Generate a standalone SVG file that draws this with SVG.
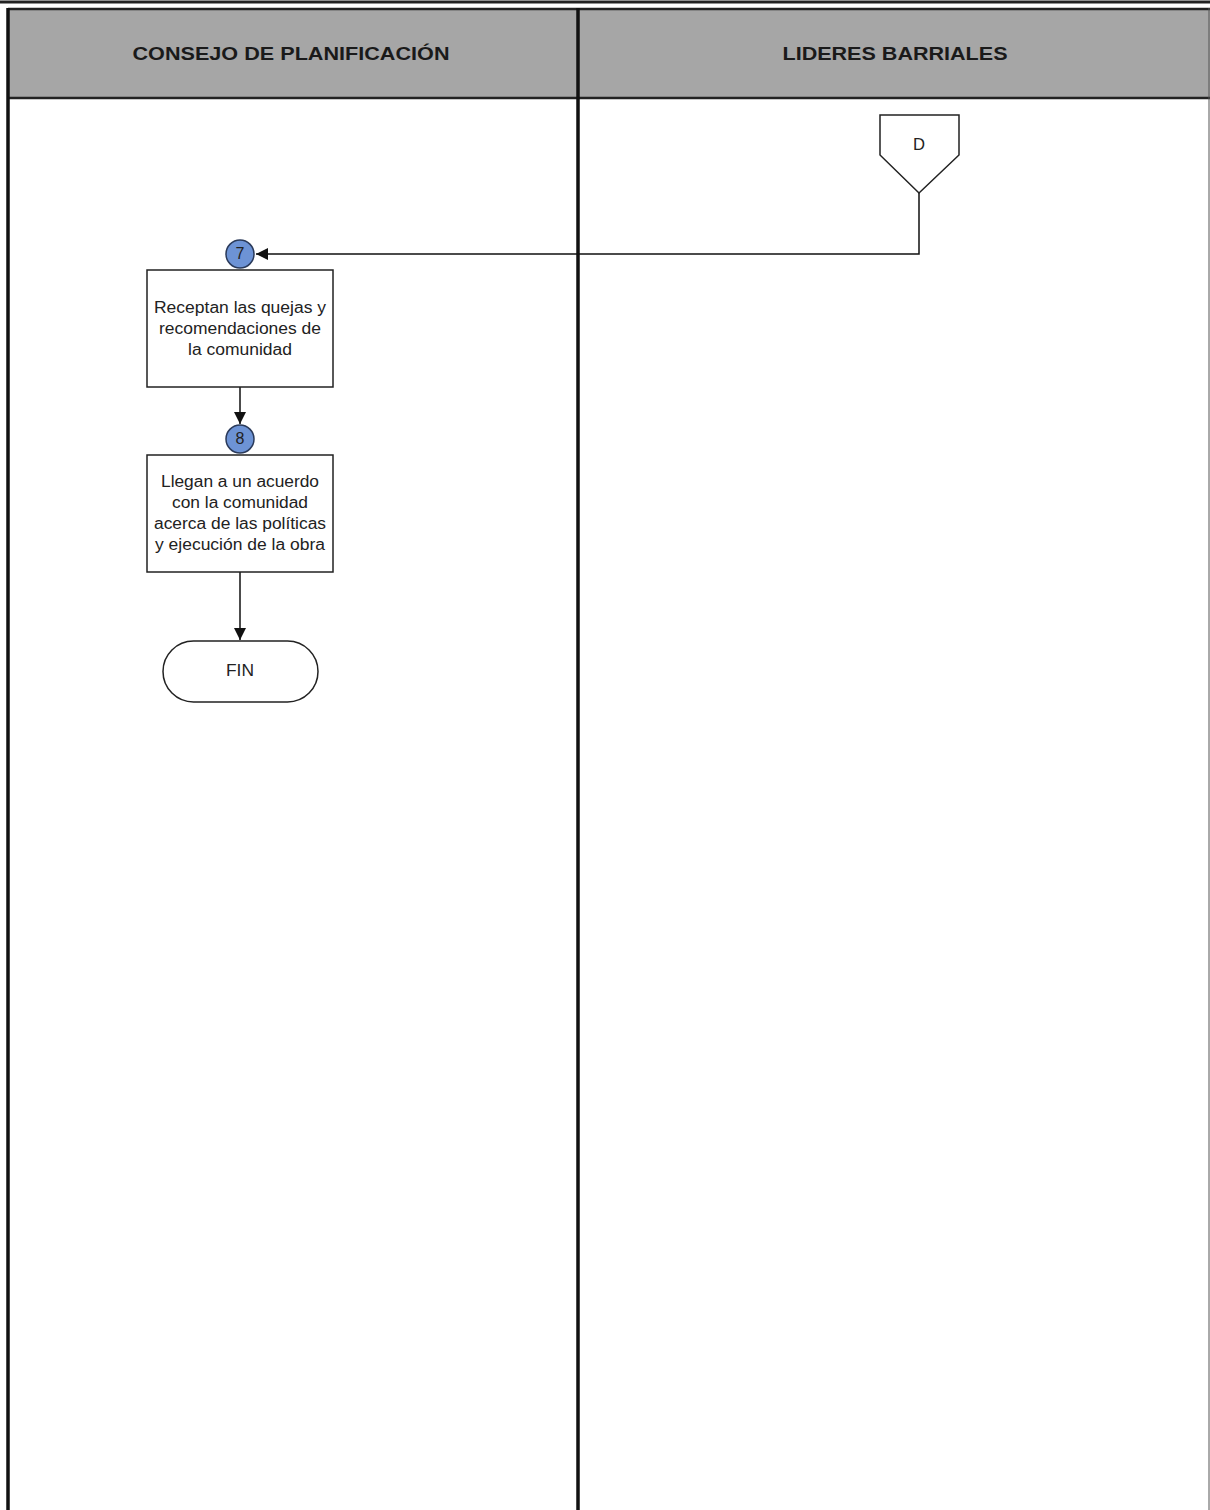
<svg xmlns="http://www.w3.org/2000/svg" width="1210" height="1510" viewBox="0 0 1210 1510">
<style>
.hdr{font-family:"Liberation Sans",Arial,sans-serif;font-size:18px;font-weight:bold;fill:#1a1a1a;text-anchor:middle}
.txt{font-family:"Liberation Sans",Arial,sans-serif;font-size:16px;fill:#222;text-anchor:middle}
.box{fill:#fff;stroke:#222;stroke-width:1.5}
.num{fill:#6d93d5;stroke:#2a3a5a;stroke-width:1.5}
.conn{fill:none;stroke:#111;stroke-width:1.5}
</style>
<defs>
<marker id="ah" viewBox="0 0 10 10" refX="10" refY="5" markerWidth="13" markerHeight="12" markerUnits="userSpaceOnUse" orient="auto">
<path d="M0,0 L10,5 L0,10 z" fill="#111"/>
</marker>
</defs>
<rect width="1210" height="1510" fill="#fff"/>
<g id="lanes">
<line x1="0" y1="2" x2="1210" y2="2" stroke="#222" stroke-width="3"/>
<rect x="8" y="9" width="1210" height="89" fill="#a6a6a6"/>
<line x1="8" y1="9" x2="1210" y2="9" stroke="#222" stroke-width="2.5"/>
<line x1="8" y1="98" x2="1210" y2="98" stroke="#222" stroke-width="2.5"/>
<line x1="8" y1="8" x2="8" y2="1510" stroke="#111" stroke-width="3.5"/>
<line x1="578" y1="8" x2="578" y2="1510" stroke="#111" stroke-width="3.5"/>
<line x1="1209" y1="8" x2="1209" y2="1510" stroke="#555" stroke-width="1"/>
<text class="hdr" x="291" y="60" textLength="317" lengthAdjust="spacingAndGlyphs">CONSEJO DE PLANIFICACIÓN</text>
<text class="hdr" x="895" y="60" textLength="225" lengthAdjust="spacingAndGlyphs">LIDERES BARRIALES</text>
</g>
<g id="connectors">
<polyline class="conn" points="919,193 919,254 256,254" marker-end="url(#ah)"/>
<line class="conn" x1="240" y1="387" x2="240" y2="424" marker-end="url(#ah)"/>
<line class="conn" x1="240" y1="572" x2="240" y2="640" marker-end="url(#ah)"/>
</g>
<g id="node-D">
<polygon class="box" points="880,115 959,115 959,155 919,193 880,155"/>
<text class="txt" x="919" y="150" textLength="12" lengthAdjust="spacingAndGlyphs">D</text>
</g>
<g id="node-7">
<circle class="num" cx="240" cy="254" r="14"/>
<text class="txt" x="240" y="259" font-size="14">7</text>
</g>
<g id="node-task1">
<rect class="box" x="147" y="270" width="186" height="117"/>
<text class="txt" x="240" y="313" textLength="172" lengthAdjust="spacingAndGlyphs">Receptan las quejas y</text>
<text class="txt" x="240" y="334" textLength="162" lengthAdjust="spacingAndGlyphs">recomendaciones de</text>
<text class="txt" x="240" y="355" textLength="104" lengthAdjust="spacingAndGlyphs">la comunidad</text>
</g>
<g id="node-8">
<circle class="num" cx="240" cy="439" r="14"/>
<text class="txt" x="240" y="444" font-size="14">8</text>
</g>
<g id="node-task2">
<rect class="box" x="147" y="455" width="186" height="117"/>
<text class="txt" x="240" y="487" textLength="158" lengthAdjust="spacingAndGlyphs">Llegan a un acuerdo</text>
<text class="txt" x="240" y="508" textLength="136" lengthAdjust="spacingAndGlyphs">con la comunidad</text>
<text class="txt" x="240" y="529" textLength="172" lengthAdjust="spacingAndGlyphs">acerca de las políticas</text>
<text class="txt" x="240" y="550" textLength="170" lengthAdjust="spacingAndGlyphs">y ejecución de la obra</text>
</g>
<g id="node-fin">
<rect class="box" x="163" y="641" width="155" height="61" rx="30.5" ry="30.5"/>
<text class="txt" x="240" y="676" textLength="28" lengthAdjust="spacingAndGlyphs">FIN</text>
</g>
</svg>
